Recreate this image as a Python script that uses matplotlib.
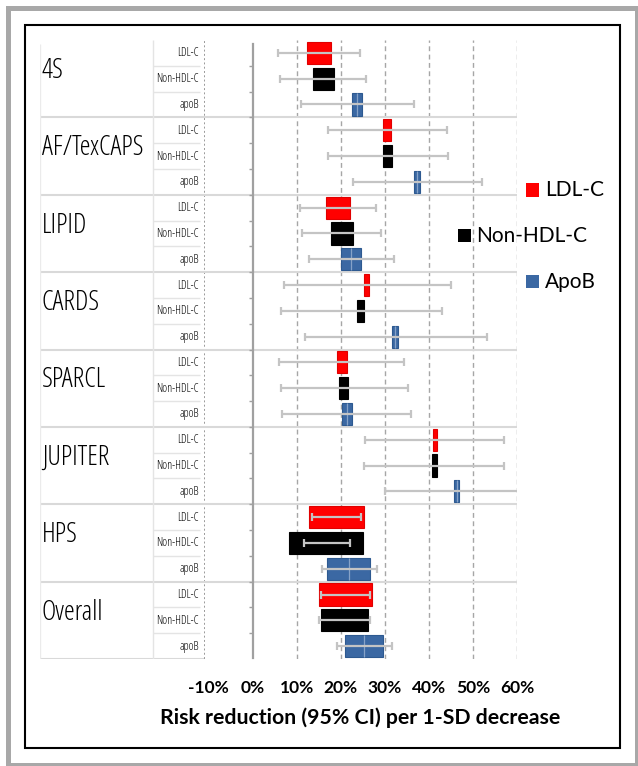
import matplotlib
matplotlib.use('Agg')
import matplotlib.pyplot as plt
from matplotlib.patches import Rectangle
from matplotlib.font_manager import FontProperties, fontManager
from matplotlib.textpath import TextPath
import numpy as np

# ---------------- data ----------------
studies = ['4S', 'AF/TexCAPS', 'LIPID', 'CARDS', 'SPARCL', 'JUPITER', 'HPS', 'Overall']
markers = ['LDL-C', 'Non-HDL-C', 'apoB']
legend_labels = ['LDL-C', 'Non-HDL-C', 'ApoB']
colors = ['#FF0000', '#000000', '#3B68A3']
edge_colors = ['#E00000', '#000000', '#2D5990']

# risk reduction (%) point estimate, 95% CI, and box width (weight) in % units
est_ldl = [15.0, 30.5, 19.3, 25.8, 20.2, 41.4, 19.0, 21.0]
lo_ldl = [5.8, 17.1, 10.7, 7.1, 6.0, 25.5, 13.5, 15.4]
hi_ldl = [24.3, 44.2, 27.9, 44.9, 34.4, 57.0, 24.5, 26.6]
box_ldl = [5.3, 1.75, 5.45, 1.2, 2.4, 1.05, 12.7, 12.0]

est_nonhdl = [16.0, 30.6, 20.2, 24.5, 20.6, 41.3, 16.6, 20.8]
lo_nonhdl = [6.1, 17.1, 11.1, 6.3, 6.3, 25.2, 11.6, 15.0]
hi_nonhdl = [25.7, 44.4, 29.1, 42.9, 35.2, 57.0, 22.0, 26.7]
box_nonhdl = [4.9, 2.05, 5.1, 1.5, 2.2, 1.1, 16.7, 10.75]

est_apob = [23.7, 37.3, 22.2, 32.3, 21.3, 46.3, 21.8, 25.3]
lo_apob = [10.9, 22.8, 12.7, 11.8, 6.7, 30.0, 15.7, 19.2]
hi_apob = [36.6, 52.0, 32.0, 53.1, 35.9, 62.0, 28.1, 31.5]
box_apob = [2.4, 1.36, 4.5, 1.3, 2.3, 1.2, 9.7, 8.6]

xticks = [-10, 0, 10, 20, 30, 40, 50, 60]
xticklabels = ['-10%', '0%', '10%', '20%', '30%', '40%', '50%', '60%']
xlabel = 'Risk reduction (95% CI) per 1-SD decrease'
xlim = (-11.1, 60)

# ---------------- narrow font choice ----------------
installed = {f.name for f in fontManager.ttflist}
cands = []
for fam in ['Liberation Sans Narrow', 'Roboto Condensed', 'Open Sans Condensed',
            'Noto Sans Condensed', 'DejaVu Sans Condensed']:
    if fam in installed:
        cands.append(FontProperties(family=fam))
for fam in ['DejaVu Sans', 'Noto Sans', 'Roboto', 'Open Sans', 'Liberation Sans']:
    if fam in installed:
        cands.append(FontProperties(family=fam, stretch='condensed'))

def text_w(fp, s='AF/TexCAPS'):
    return TextPath((0, 0), s, size=10, prop=fp).get_extents().width

if cands:
    narrow_fp = min(cands, key=text_w)
else:
    narrow_fp = FontProperties(family='DejaVu Sans')
# size so that "AF/TexCAPS" spans ~100 px (at 100 dpi: pt = px*0.72)
study_size = min(20.0, 10 * (100 * 0.72) / text_w(narrow_fp))
sub_size = min(8.5, 10 * (42 * 0.72) / text_w(narrow_fp, 'Non-HDL-C'))

# ---------------- figure ----------------
W, H = 638, 766
fig = plt.figure(figsize=(W / 100, H / 100), dpi=100)
fig.patch.set_facecolor('white')

def fx(px):
    return px / W

def fy(py):
    return 1 - py / H

top_px, bot_px = 40, 659
ax = fig.add_axes([fx(204), fy(bot_px), fx(517) - fx(204), fy(top_px) - fy(bot_px)])
tab = fig.add_axes([fx(40), fy(bot_px), fx(204) - fx(40), fy(top_px) - fy(bot_px)], sharey=ax)

n_rows = len(studies) * len(markers)
ax.set_ylim(n_rows - 0.5, -0.5)
ax.set_xlim(*xlim)

series = [
    (est_ldl, lo_ldl, hi_ldl, box_ldl),
    (est_nonhdl, lo_nonhdl, hi_nonhdl, box_nonhdl),
    (est_apob, lo_apob, hi_apob, box_apob),
]

grid_c = '#A6A6A6'
light_c = '#D9D9D9'

# grid
for xt in xticks[2:]:
    ax.axvline(xt, color=grid_c, lw=1.0, ls=(0, (3.5, 2.5)), zorder=0)
ax.axvline(xlim[0] + 0.08, color='#9A9A9A', lw=1.4, ls=(0, (1, 1.2)), zorder=0)
for g in range(1, len(studies)):
    ax.axhline(g * 3 - 0.5, color=light_c, lw=1.5, zorder=0)

# spines: left spine at 0 with row ticks
for s in ['top', 'right', 'bottom']:
    ax.spines[s].set_visible(False)
ax.spines['left'].set_position(('data', 0))
ax.spines['left'].set_color('#A0A0A0')
ax.spines['left'].set_linewidth(1.6)
ax.spines['left'].set_bounds(-0.35, n_rows - 0.55)
ax.set_yticks(np.arange(0.5, n_rows - 0.5, 1.0))
ax.tick_params(axis='y', direction='out', length=3, width=1.0, color='#A0A0A0', labelleft=False)

# boxes and CIs
for m, (est, lo, hi, box) in enumerate(series):
    est = np.array(est)
    lo = np.array(lo)
    hi = np.array(hi)
    box = np.array(box)
    y = np.arange(len(studies)) * 3 + m
    ax.barh(y, box, left=est - box / 2, height=0.86, color=colors[m],
            edgecolor=edge_colors[m], linewidth=0.8, zorder=3)
    if m == 2:
        ax.vlines(est, y - 0.43, y + 0.43, color='#86A2C8', lw=0.9, zorder=4)
    ax.errorbar(est, y, xerr=[est - lo, hi - est], fmt='none', ecolor='#C4C4C4',
                elinewidth=1.6, capsize=2.8, capthick=1.6, zorder=5, clip_on=True)

# x axis
ax.set_xticks(xticks)
ax.set_xticklabels(xticklabels, fontfamily='Lato', fontweight='bold', fontsize=12.5)
ax.tick_params(axis='x', length=0, pad=15)
ax.set_xlabel(xlabel, fontfamily='Lato', fontweight='bold', fontsize=15.3, labelpad=8)

# ---------------- table ----------------
tab.set_xlim(0, 1)
tab.axis('off')
sub_x0 = (153 - 40) / 164
for g in range(1, len(studies) + 1):
    tab.axhline(g * 3 - 0.5, color=light_c, lw=1.5, zorder=0)
for r in range(n_rows):
    if (r + 1) % 3 != 0:
        tab.hlines(r + 0.5, sub_x0, 0.975, color='#E4E4E4', lw=1.0)
tab.vlines([0.0], 0.15 - 0.5, n_rows - 0.5, color='#EBEBEB', lw=1.0)
tab.vlines([sub_x0], -0.5, n_rows - 0.5, color='#E4E4E4', lw=1.0)

for g, s in enumerate(studies):
    fp = narrow_fp.copy()
    fp.set_size(study_size)
    tab.text(0.012, g * 3 + 0.7, s, ha='left', va='center', fontproperties=fp, color='black')
    for m, lab in enumerate(markers):
        fp2 = narrow_fp.copy()
        fp2.set_size(sub_size)
        tab.text(0.968, g * 3 + m, lab, ha='right', va='center', fontproperties=fp2, color='black')

# ---------------- legend ----------------
leg_items = [(532.5, 190, 545), (464, 235.5, 476), (532.5, 281.5, 545)]
sq = 13
for (cx, cy, tx), lab, c in zip(leg_items, legend_labels, colors):
    fig.patches.append(Rectangle((fx(cx - sq / 2), fy(cy + sq / 2)), sq / W, sq / H,
                                 transform=fig.transFigure, facecolor=c, edgecolor='none'))
    fig.text(fx(tx), fy(cy), lab, ha='left', va='center', fontsize=15, family='Lato', color='black')

# ---------------- frames ----------------
fig.patches.append(Rectangle((fx(7.5), fy(765)), (636.5 - 7.5) / W, (765 - 7.5) / H,
                             transform=fig.transFigure, fill=False, edgecolor='#A8A8A8', lw=3.6))
fig.patches.append(Rectangle((fx(25), fy(748)), (620 - 25) / W, (748 - 25) / H,
                             transform=fig.transFigure, fill=False, edgecolor='black', lw=1.5))

fig.savefig('out.png', dpi=100)
